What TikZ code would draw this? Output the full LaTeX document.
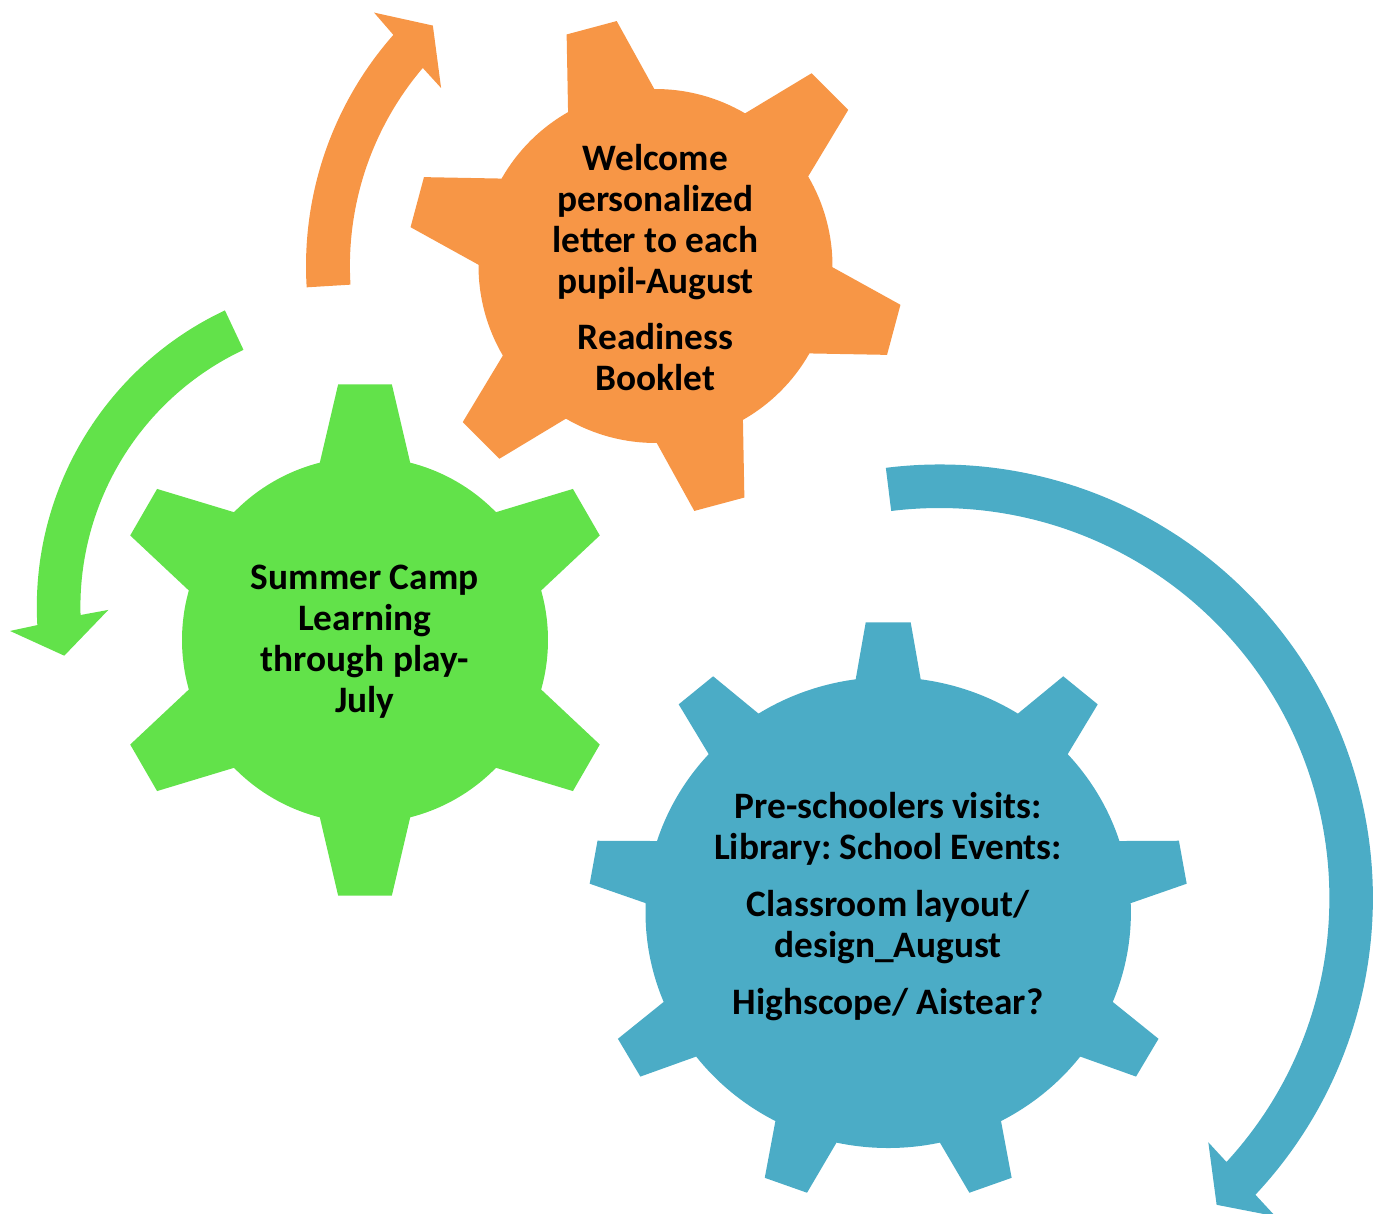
\documentclass[tikz,border=0pt]{standalone}
\usepackage{fontspec}
\setmainfont{Carlito}
\definecolor{gearorange}{HTML}{F79646}
\definecolor{geargreen}{HTML}{62E24A}
\definecolor{gearblue}{HTML}{4BACC6}
\frenchspacing
\begin{document}
\begin{tikzpicture}[x=1pt,y=1pt,
  geartext/.style={font=\bfseries\fontsize{37.33}{40.9}\selectfont, align=center,
    anchor=north, inner sep=0pt, text=black}]
\clip (0,0) rectangle (1378,-1214);
\useasboundingbox (0,0) rectangle (1378,-1214);
% green gear
\fill[geargreen, shift={(365,-640)}] (90-14.3:183)
  \foreach \k in {0,...,5} {
    -- ({90+60*\k-6}:257) -- ({90+60*\k+6}:257) -- ({90+60*\k+14.3}:183)
    arc[start angle={90+60*\k+14.3}, end angle={150+60*\k-14.3}, radius=183]
  } -- cycle;
% orange gear
\fill[gearorange, shift={(655.5,-266)}] (105-14.6:177)
  \foreach \k in {0,...,5} {
    -- ({105+60*\k-6}:248) -- ({105+60*\k+6}:248) -- ({105+60*\k+14.6}:177)
    arc[start angle={105+60*\k+14.6}, end angle={165+60*\k-14.6}, radius=177]
  } -- cycle;
% blue gear
\fill[gearblue, shift={(888.2,-912.6)}, yscale=0.97] (90-7.7:242.7)
  \foreach \k in {0,...,8} {
    -- ({90+40*\k-4.3}:300) -- ({90+40*\k+4.3}:300) -- ({90+40*\k+7.7}:242.7)
    arc[start angle={90+40*\k+7.7}, end angle={130+40*\k-7.7}, radius=242.7]
  } -- cycle;
% arrows
\fill[gearorange, shift={(655.5,-266)}] (183.5:349.5)
  arc[start angle=183.5, end angle=138.6, radius=349.5]
  -- (138:378.7) -- (132.8:327.7) -- (140.3:278.7) -- (139.6:305.6)
  arc[start angle=139.6, end angle=183.5, radius=305.6] -- cycle;
\fill[geargreen, shift={(364.4,-606.8)}] (115.2:327.6)
  arc[start angle=115.2, end angle=183.2, radius=327.6]
  -- (183.9:355.2) -- (189.25:304.1) -- (180.7:256.1) -- (181.66:284)
  arc[start angle=181.66, end angle=115.2, radius=284] -- cycle;
\fill[gearblue, shift={(939.4,-898)}] (97.1:433.5)
  arc[start angle=97.1, end angle=-43.2, radius=433.5]
  -- (-43.45:462.8) -- (-47.9:413.5) -- (-42.25:363.3) -- (-42.6:390)
  arc[start angle=-42.6, end angle=97.1, radius=390] -- cycle;
% texts
\node[geartext] (welcome) at (655.5,-140.2) {\rule{0pt}{30pt}Welcome\\personalized\\letter to each\\pupil-August\\[15.5pt]Readiness\\Booklet};
\node[geartext] (summer) at (364.7,-559.3) {\rule{0pt}{30pt}Summer Camp\\Learning\\through play-\\July};
\node[geartext] (visits) at (888,-788.3) {\rule{0pt}{30pt}Pre-schoolers visits:\\Library: School Events:\\[16pt]Classroom layout/\\design\_August\\[16pt]Highscope/ Aistear?};
\end{tikzpicture}
\end{document}
